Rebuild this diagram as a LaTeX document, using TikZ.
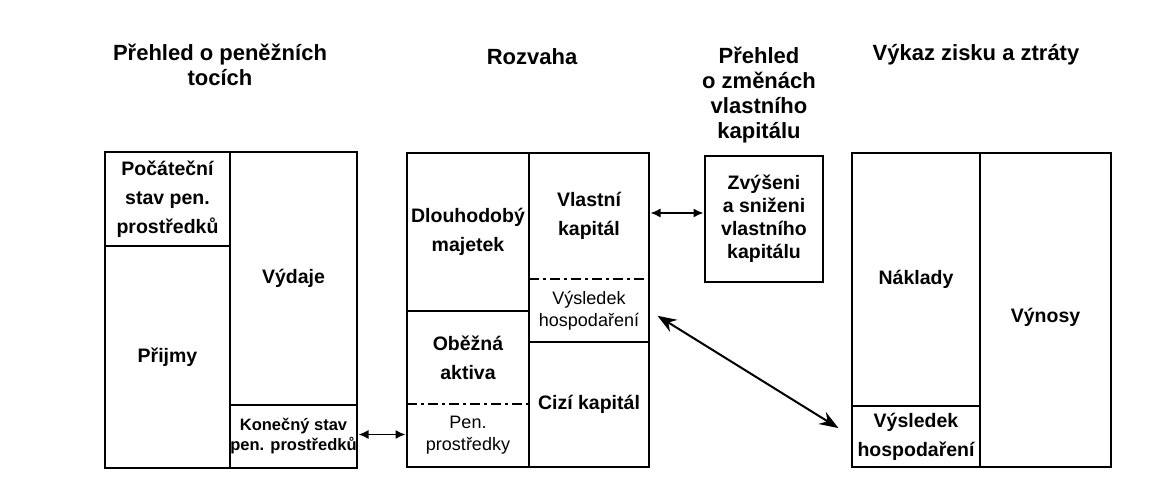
\documentclass[tikz,border=0pt]{standalone}
\usepackage{fontspec}
\setmainfont{Liberation Sans}
\usetikzlibrary{arrows.meta,calc}
\begin{document}
\begin{tikzpicture}[x=1pt,y=-1pt,
  outerbox/.style={draw, line width=2.8pt, inner sep=0pt, outer sep=0pt, anchor=north west},
  cell/.style={inner sep=0pt, outer sep=0pt, anchor=north west, align=center,
    font=\bfseries\fontsize{19.5}{29}\selectfont},
  cellthin/.style={cell, font=\fontsize{18}{22}\selectfont},
  cellsmall/.style={cell, font=\bfseries\fontsize{16.5}{20}\selectfont},
  title/.style={align=center, inner sep=0pt, font=\bfseries\fontsize{22}{25}\selectfont},
  divider/.style={line width=1.7pt},
  dashdotline/.style={line width=2.2pt, dash pattern=on 10pt off 4pt on 3pt off 4pt},
  harrow/.style={{Latex[length=10pt,width=9pt]}-{Latex[length=10pt,width=9pt]}, line width=1.5pt,
    shorten <=1.5pt, shorten >=1.5pt},
  darrow/.style={{Stealth[length=19pt,width=14pt]}-{Stealth[length=19pt,width=14pt]}, line width=2pt,
    shorten <=10pt, shorten >=16pt}
]
\fill[white] (0,0) rectangle (1154,481);
\useasboundingbox (0,0) rectangle (1154,481);

% titles
\node[title] (t1) at (220,65) {Přehled o peněžních\\tocích};
\node[title] (t2) at (532,57) {Rozvaha};
\node[title] (t3) at (759,95) {Přehled\\o změnách\\vlastního\\kapitálu};
\node[title] (t4) at (976,55) {Výkaz zisku a ztráty};

% box 1: cash flow
\node[cell, minimum width=125pt, minimum height=94pt] (poc) at (105,152) {Počáteční\\stav pen.\\prostředků};
\node[cell, minimum width=125pt, minimum height=222pt] (prj) at (105,246) {Přijmy};
\node[cell, minimum width=127pt, minimum height=253pt] (vyd) at (230,152) {Výdaje};
\node[cellsmall, minimum width=127pt, minimum height=63pt] (kon) at (230,405) {Konečný stav\\pen. prostředků};
\draw[divider] (poc.north east) -- (prj.south east);
\draw[divider] (poc.south west) -- (poc.south east);
\draw[divider] (kon.north west) -- (kon.north east);
\node[outerbox, minimum width=252pt, minimum height=316pt] (b1) at (105,152) {};

% box 2: balance sheet
\node[cell, minimum width=122pt, minimum height=158pt] (dl) at (407,153) {Dlouhodobý\\majetek};
\node[cell, minimum width=122pt, minimum height=93pt] (ob) at (407,311) {Oběžná\\aktiva};
\node[cellthin, minimum width=122pt, minimum height=63pt] (pe) at (407,404) {Pen.\\prostředky};
\node[cell, minimum width=120pt, minimum height=126pt] (vk) at (529,153) {Vlastní\\kapitál};
\node[cellthin, minimum width=120pt, minimum height=63pt] (vh) at (529,279) {Výsledek\\hospodaření};
\node[cell, minimum width=120pt, minimum height=125pt] (cz) at (529,342) {Cizí kapitál};
\draw[divider] (dl.north east) -- (pe.south east);
\draw[divider] (dl.south west) -- (dl.south east);
\draw[divider] (vh.south west) -- (vh.south east);
\draw[dashdotline] (pe.north west) -- (pe.north east);
\draw[dashdotline] (vh.north west) -- (vh.north east);
\node[outerbox, minimum width=242pt, minimum height=314pt] (b2) at (407,153) {};

% box 3: equity changes
\node[outerbox, align=center, font=\bfseries\fontsize{19.5}{23}\selectfont,
  minimum width=118pt, minimum height=126pt] (b3) at (705,156) {Zvýšeni\\a sniženi\\vlastního\\kapitálu};

% box 4: income statement
\node[cell, minimum width=128pt, minimum height=253pt] (na) at (852,153) {Náklady};
\node[cell, minimum width=131pt, minimum height=314pt] (vy) at (980,153) {\raisebox{-12pt}[0pt][0pt]{Výnosy}};
\node[cell, minimum width=128pt, minimum height=61pt] (vh4) at (852,406) {Výsledek\\hospodaření};
\draw[divider] (na.north east) -- (vh4.south east);
\draw[divider] (vh4.north west) -- (vh4.north east);
\node[outerbox, minimum width=259pt, minimum height=314pt] (b4) at (852,153) {};

% connectors
\draw[harrow] ([yshift=2pt]kon.east) -- ([yshift=2pt]kon.east -| pe.west);
\draw[harrow] ([yshift=3pt]vk.east) -- ([yshift=3pt]vk.east -| b3.west);
\draw[darrow] (vh.east) -- (vh4.west);
\end{tikzpicture}
\end{document}
